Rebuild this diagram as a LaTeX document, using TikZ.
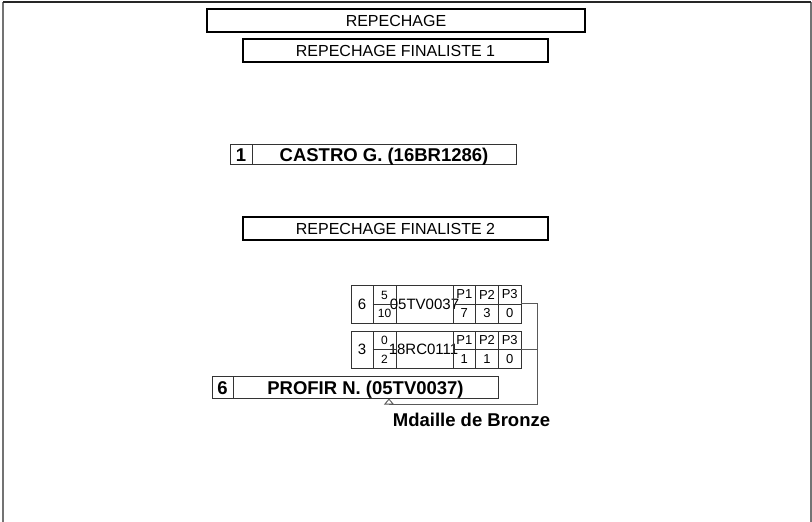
\documentclass[tikz,border=0pt]{standalone}
\usepackage{fontspec}
\setmainfont{Liberation Sans}
\usetikzlibrary{arrows.meta}

\begin{document}
\begin{tikzpicture}[x=1pt, y=-1pt,
	titlebox/.style={draw, line width=1.6pt, inner sep=0, minimum height=23pt, text height=11.5pt, text depth=0pt, font=\fontsize{16}{18}\selectfont},
	winner/.style={draw=black!80, line width=0.8pt, inner sep=0, minimum height=20pt, text height=14pt, text depth=0pt, font=\fontsize{18.5}{22}\selectfont\bfseries},
	cell/.style={draw=black!80, line width=0.8pt, inner sep=0, minimum width=22pt},
	seedtxt/.style={font=\fontsize{15}{17}\selectfont},
	fractxt/.style={inner sep=0, font=\fontsize{12}{13}\selectfont},
	ptxt/.style={font=\fontsize{13}{15}\selectfont},
	link/.style={draw=black!65, line width=0.9pt}]
	\useasboundingbox (0,0) rectangle (812,522);
	\draw[black!55, line width=1.2pt] (3,522) -- (3,2);
	\draw[black!55, line width=1.2pt] (811,522) -- (811,2);
	\draw[black!85, line width=1.2pt] (3,2) -- (811,2);

	\node[titlebox, minimum width=378pt] (rep) at (396,20.5) {REPECHAGE};
	\node[titlebox, minimum width=305pt] (fin1) at (395.5,50.5) {REPECHAGE FINALISTE 1};
	\node[titlebox, minimum width=305pt] (fin2) at (395.5,228.5) {REPECHAGE FINALISTE 2};

	\node[winner, minimum width=22pt] (w1rank) at (241,154) {1};
	\node[winner, minimum width=264pt] (w1name) at (384,154) {CASTRO G. (16BR1286)};

	% match 1
	\node[cell, seedtxt, minimum height=38pt] (m1seed) at (362,304) {6};
	\node[cell, minimum width=23pt, minimum height=38pt] (m1frac) at (384.5,304) {};
	\node[fractxt] (m1won) at (384.5,295) {5};
	\node[fractxt] (m1tot) at (384.5,313.5) {10};
	\node[cell, minimum width=57pt, minimum height=38pt] (m1box) at (424.5,304) {};
	\node[seedtxt, inner sep=0] (m1name) at (424.5,304) {05TV0037};
	\node[cell, ptxt, minimum width=22.7pt, minimum height=19pt] (m1p1a) at (464.3,294.5) {P1};
	\node[cell, ptxt, minimum width=22.7pt, minimum height=19pt] (m1p2a) at (487,294.5) {P2};
	\node[cell, ptxt, minimum width=22.7pt, minimum height=19pt] (m1p3a) at (509.7,294.5) {P3};
	\node[cell, ptxt, minimum width=22.7pt, minimum height=19pt] (m1p1b) at (464.3,313.5) {7};
	\node[cell, ptxt, minimum width=22.7pt, minimum height=19pt] (m1p2b) at (487,313.5) {3};
	\node[cell, ptxt, minimum width=22.7pt, minimum height=19pt] (m1p3b) at (509.7,313.5) {0};
	\draw[black!80, line width=0.8pt] (m1frac.west) -- (m1frac.east);

	% match 2
	\node[cell, seedtxt, minimum height=37pt] (m2seed) at (362,349.5) {3};
	\node[cell, minimum width=23pt, minimum height=37pt] (m2frac) at (384.5,349.5) {};
	\node[fractxt] (m2won) at (384.5,340.5) {0};
	\node[fractxt] (m2tot) at (384.5,359) {2};
	\node[cell, minimum width=57pt, minimum height=37pt] (m2box) at (424.5,349.5) {};
	\node[seedtxt, inner sep=0] (m2name) at (423.5,349.5) {18RC0111};
	\node[cell, ptxt, minimum width=22.7pt, minimum height=18.5pt] (m2p1a) at (464.3,340.25) {P1};
	\node[cell, ptxt, minimum width=22.7pt, minimum height=18.5pt] (m2p2a) at (487,340.25) {P2};
	\node[cell, ptxt, minimum width=22.7pt, minimum height=18.5pt] (m2p3a) at (509.7,340.25) {P3};
	\node[cell, ptxt, minimum width=22.7pt, minimum height=18.5pt] (m2p1b) at (464.3,358.75) {1};
	\node[cell, ptxt, minimum width=22.7pt, minimum height=18.5pt] (m2p2b) at (487,358.75) {1};
	\node[cell, ptxt, minimum width=22.7pt, minimum height=18.5pt] (m2p3b) at (509.7,358.75) {0};
	\draw[black!80, line width=0.8pt] (m2frac.west) -- (m2frac.east);

	\node[winner, minimum width=21pt, minimum height=22pt] (w2rank) at (222.5,387) {6};
	\node[winner, minimum width=265pt, minimum height=22pt] (w2name) at (365.5,387) {PROFIR N. (05TV0037)};

	\coordinate (turn) at (537,404);
	\coordinate (tip) at (389,398.5);
	\draw[link, -{Triangle[open, length=6pt, width=10pt, line width=0.9pt]}] (m1p3b.north east) -| (turn) -| (tip);
	\draw[link] (m2p3b.north east) -- (m2p3b.north east -| turn);

	\node[font=\fontsize{18.5}{22}\selectfont\bfseries] (medal) at (471.5,420) {Mdaille de Bronze};
\end{tikzpicture}
\end{document}
